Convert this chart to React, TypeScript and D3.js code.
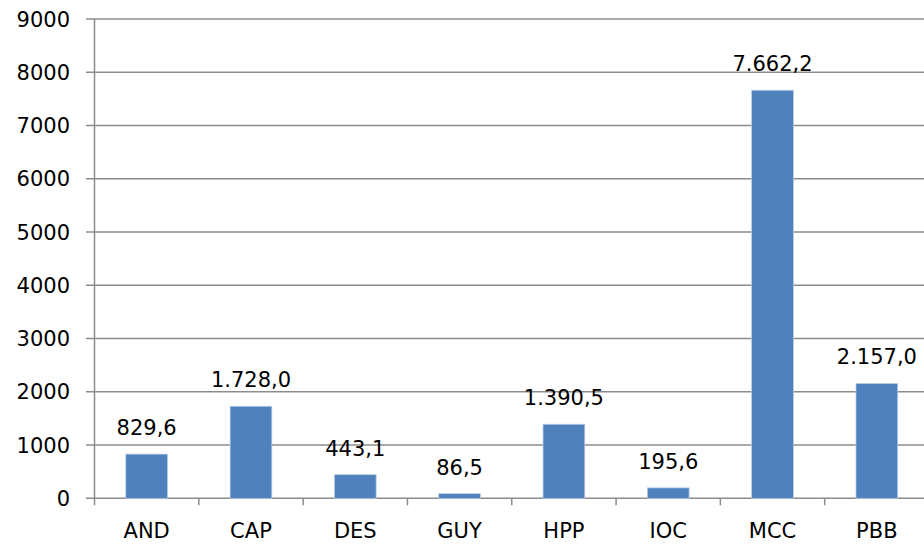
import React from "react";
import * as d3 from "d3";

const categories = ["AND", "CAP", "DES", "GUY", "HPP", "IOC", "MCC", "PBB"];
const values = [829.6, 1728.0, 443.1, 86.5, 1390.5, 195.6, 7662.2, 2157.0];
const yTicks = [0, 1000, 2000, 3000, 4000, 5000, 6000, 7000, 8000, 9000];

const W = 924;
const H = 548;
const left = 94.5;
const right = 929;
const top = 19;
const bottom = 498.3;

const fmt = (v: number) => {
  const s = d3.format(",.1f")(v);
  return s.replace(/,/g, "#").replace(".", ",").replace(/#/g, ".");
};

export default function App() {
  const x = d3.scaleBand<string>().domain(categories).range([left, right]).paddingInner(0.6).paddingOuter(0.3);
  const xOuter = d3.scaleBand<string>().domain(categories).range([left, right]);
  const y = d3.scaleLinear().domain([0, 9000]).range([bottom, top]);
  const font = "'DejaVu Sans', sans-serif";
  const grid = "#8c8c8c";
  return (
    <svg width={W} height={H} style={{ position: "absolute", left: 0, top: 0, background: "#fff" }}>
      {yTicks.map((t) => (
        <g key={t}>
          <line x1={86} x2={W} y1={y(t)} y2={y(t)} stroke={grid} strokeWidth={1.5} />
          <text x={70} y={y(t)} dy="0.36em" textAnchor="end" fontFamily={font} fontSize={21} fill="#000">
            {t}
          </text>
        </g>
      ))}
      <line x1={left} x2={left} y1={top} y2={bottom + 7} stroke={grid} strokeWidth={1.5} />
      {categories.map((c) => (
        <line key={"t" + c} x1={xOuter(c)! + xOuter.bandwidth()} x2={xOuter(c)! + xOuter.bandwidth()} y1={bottom} y2={bottom + 7} stroke={grid} strokeWidth={1.5} />
      ))}
      {categories.map((c, i) => (
        <g key={c}>
          <rect
            x={x(c)}
            y={y(values[i])}
            width={x.bandwidth()}
            height={bottom - y(values[i])}
            fill="#4F81BD"
            stroke="#B9CDE5"
            strokeWidth={0.75}
          />
          <text
            x={x(c)! + x.bandwidth() / 2}
            y={y(values[i]) - 19}
            textAnchor="middle"
            fontFamily={font}
            fontSize={21}
            fill="#000"
          >
            {fmt(values[i])}
          </text>
          <text
            x={xOuter(c)! + xOuter.bandwidth() / 2}
            y={538}
            textAnchor="middle"
            fontFamily={font}
            fontSize={21}
            fill="#000"
          >
            {c}
          </text>
        </g>
      ))}
    </svg>
  );
}
